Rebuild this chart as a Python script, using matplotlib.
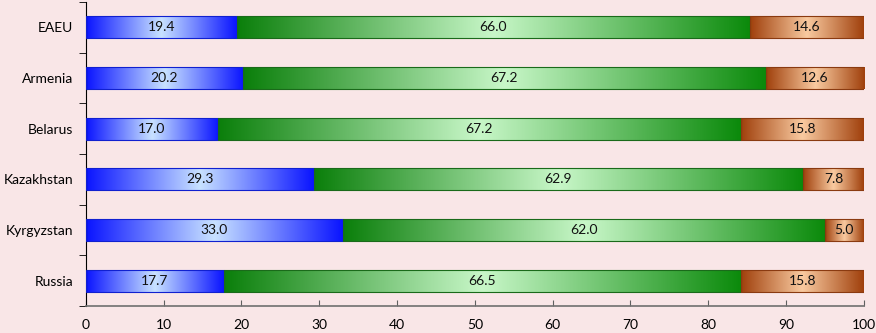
import matplotlib.pyplot as plt
import numpy as np
from matplotlib.colors import LinearSegmentedColormap

countries = ["EAEU", "Armenia", "Belarus", "Kazakhstan", "Kyrgyzstan", "Russia"]
young = [19.4, 20.2, 17.0, 29.3, 33.0, 17.7]
working = [66.0, 67.2, 67.2, 62.9, 62.0, 66.5]
old = [14.6, 12.6, 15.8, 7.8, 5.0, 15.8]

bg = "#f9e6e7"
plt.rcParams["font.family"] = ["Lato", "DejaVu Sans"]

# gradient maps: dark edge -> light middle -> dark edge
cmaps = [
    LinearSegmentedColormap.from_list("b", ["#0a14ff", "#c8e2ff", "#0a14ff"]),
    LinearSegmentedColormap.from_list("g", ["#0b7f0b", "#c8f7c8", "#0b8a0b"]),
    LinearSegmentedColormap.from_list("o", ["#a0400c", "#f9caa0", "#a0400c"]),
]
edges = ["#1020d0", "#1a6a1a", "#8a3a10"]

fig = plt.figure(figsize=(8.76, 3.33), dpi=100, facecolor=bg)
ax = fig.add_axes([0.098, 0.081, 0.888, 0.913], facecolor=bg)

grad = np.linspace(0, 1, 256).reshape(1, -1)
h = 0.43
n = len(countries)
for i, name in enumerate(countries):
    y = n - 1 - i
    left = 0
    for k, vals in enumerate([young, working, old]):
        w = vals[i]
        ax.imshow(grad, cmap=cmaps[k], aspect="auto",
                  extent=(left, left + w, y - h / 2, y + h / 2), zorder=2)
        ax.barh(y, w, left=left, height=h, color="none",
                edgecolor=edges[k], linewidth=0.8, zorder=3)
        ax.text(left + w / 2, y, f"{w:.1f}", ha="center", va="center",
                fontsize=10, color="#111111", zorder=4)
        left += w

ax.set_xlim(0, 100)
ax.set_ylim(-0.5, n - 0.5)
ax.set_xticks(np.arange(0, 101, 10))
ax.set_yticks(range(n))
ax.set_yticklabels(countries[::-1], fontsize=10)
ax.set_yticks(np.arange(-0.5, n, 1), minor=True)
ax.tick_params(axis="y", which="major", length=0, pad=9)
ax.tick_params(axis="y", which="minor", length=5, color="black")
ax.tick_params(axis="x", direction="in", length=4, color="#606060",
               labelsize=10, pad=9)
for s in ["top", "right"]:
    ax.spines[s].set_visible(False)
ax.spines["bottom"].set_color("#707070")
ax.spines["bottom"].set_linewidth(1.2)
ax.spines["left"].set_color("black")

fig.savefig("out.png", dpi=100, facecolor=bg)
